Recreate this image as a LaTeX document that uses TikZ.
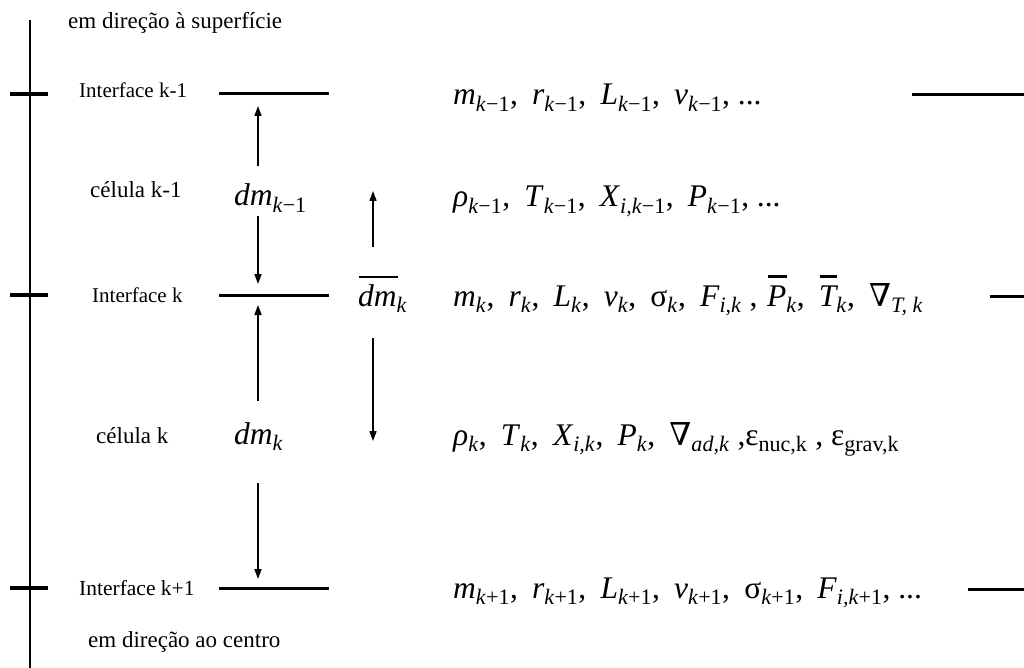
\documentclass[tikz,border=0pt]{standalone}
\usepackage{fontspec}
\setmainfont{Liberation Serif}
\newfontfamily\symf{DejaVu Serif}
\usetikzlibrary{arrows.meta}
\newcommand\sbx[1]{\textsubscript{#1}}
\newcommand\iv[1]{\textit{#1}}
% overline: #1 thickness (em), #2 shift (em), #3 text
\newcommand\ob[3]{\setbox0\hbox{\itshape #3}\rlap{\kern#2em\raisebox{0.9em}{\rule{\wd0}{#1em}}}\box0}
\newcommand\sep{,\hspace{0.45em}}
\begin{document}
\begin{tikzpicture}[x=1pt,y=-1pt,
  lbl/.style={anchor=base west, inner sep=0pt, font=\fontsize{23}{26}\selectfont},
  mth/.style={anchor=base west, inner sep=0pt, font=\fontsize{31.5}{34}\selectfont},
  tick/.style={line width=3.5pt},
  ifl/.style={line width=3pt},
  arr/.style={line width=1.6pt, -{Triangle[length=10pt,width=7pt]}}]
\useasboundingbox (0,0) rectangle (1024,668);
% axis
\coordinate (axT) at (30,20);
\coordinate (axB) at (30,668);
\draw[line width=1.8pt] (axT) -- (axB);
% ticks
\coordinate (t1a) at (10,94); \coordinate (t1b) at (48,94);
\coordinate (t2a) at (10,295); \coordinate (t2b) at (48,295);
\coordinate (t3a) at (10,588); \coordinate (t3b) at (48,588);
\draw[tick] (t1a) -- (t1b);
\draw[tick] (t2a) -- (t2b);
\draw[tick] (t3a) -- (t3b);
% interface lines
\coordinate (i1a) at (219,94); \coordinate (i1b) at (329,94);
\coordinate (i2a) at (219,295); \coordinate (i2b) at (329,295);
\coordinate (i3a) at (219,588); \coordinate (i3b) at (329,588);
\draw[ifl] (i1a) -- (i1b);
\draw[ifl] (i2a) -- (i2b);
\draw[ifl] (i3a) -- (i3b);
% right lines
\coordinate (r1a) at (912,95); \coordinate (r1b) at (1024,95);
\coordinate (r2a) at (990,296); \coordinate (r2b) at (1024,296);
\coordinate (r3a) at (968,589); \coordinate (r3b) at (1024,589);
\draw[ifl] (r1a) -- (r1b);
\draw[ifl] (r2a) -- (r2b);
\draw[ifl] (r3a) -- (r3b);
% labels
\node[lbl, font=\fontsize{23}{26}\selectfont] (top) at (68,29) {em direção à superfície};
\node[lbl, font=\fontsize{21}{24}\selectfont] (if1) at (79,98) {Interface k-1};
\node[lbl] (c1) at (90,198) {célula k-1};
\node[lbl, font=\fontsize{21}{24}\selectfont] (if2) at (92,302) {Interface k};
\node[lbl] (c2) at (96,443) {célula k};
\node[lbl, font=\fontsize{21.5}{24}\selectfont] (if3) at (79,595) {Interface k+1};
\node[lbl, font=\fontsize{23}{24}\selectfont] (bot) at (88,647) {em direção ao centro};
% dm labels
\node[mth] (dm1) at (234,206) {\iv{dm}\sbx{\iv{k}−1}};
\node[mth] (dm2) at (234,444) {\iv{dm}\sbx{\iv{k}}};
\node[mth] (dmb) at (358,306) {\ob{0.05}{0.03}{dm}\sbx{\iv{k}}};
% arrows
\coordinate (a1s) at (258,166); \coordinate (a1e) at (258,106);
\coordinate (a2s) at (258,216); \coordinate (a2e) at (258,284);
\coordinate (a3s) at (258,401); \coordinate (a3e) at (258,305);
\coordinate (a4s) at (258,483); \coordinate (a4e) at (258,579);
\coordinate (a5s) at (373,247); \coordinate (a5e) at (373,191);
\coordinate (a6s) at (373,338); \coordinate (a6e) at (373,441);
\draw[arr] (a1s) -- (a1e);
\draw[arr] (a2s) -- (a2e);
\draw[arr] (a3s) -- (a3e);
\draw[arr] (a4s) -- (a4e);
\draw[arr] (a5s) -- (a5e);
\draw[arr] (a6s) -- (a6e);
% math rows
\node[mth] (row1) at (453,105) {\iv{m}\sbx{\iv{k}−1}\sep \iv{r}\sbx{\iv{k}−1}\sep \iv{L}\sbx{\iv{k}−1}\sep \iv{v}\sbx{\iv{k}−1}, ...};
\node[mth] (row2) at (453,207) {\iv{ρ}\sbx{\iv{k}−1}\sep \iv{T}\sbx{\iv{k}−1}\sep \iv{X}\sbx{\iv{i,k}−1}\sep \iv{P}\sbx{\iv{k}−1}, ...};
\node[mth] (row3) at (453,306) {\iv{m}\sbx{\iv{k}}\sep \iv{r}\sbx{\iv{k}}\sep \iv{L}\sbx{\iv{k}}\sep \iv{v}\sbx{\iv{k}}\sep σ\sbx{\iv{k}}\sep \iv{F}\sbx{\iv{i,k}} ,\hspace{0.3em}\ob{0.07}{0.02}{P}\sbx{\iv{k}}\sep \ob{0.07}{0.02}{T}\sbx{\iv{k}}\sep {\symf ∇}\sbx{\iv{T, k}}};
\node[mth] (row4) at (453,445) {\iv{ρ}\sbx{\iv{k}}\sep \iv{T}\sbx{\iv{k}}\sep \iv{X}\sbx{\iv{i,k}}\sep \iv{P}\sbx{\iv{k}}\sep {\symf ∇}\sbx{\iv{ad,k}} ,ε\sbx{nuc,k} , ε\sbx{grav,k}};
\node[mth] (row5) at (453,598) {\iv{m}\sbx{\iv{k}+1}\sep \iv{r}\sbx{\iv{k}+1}\sep \iv{L}\sbx{\iv{k}+1}\sep \iv{v}\sbx{\iv{k}+1}\sep σ\sbx{\iv{k}+1}\sep \iv{F}\sbx{\iv{i,k}+1}, ...};
\end{tikzpicture}
\end{document}
